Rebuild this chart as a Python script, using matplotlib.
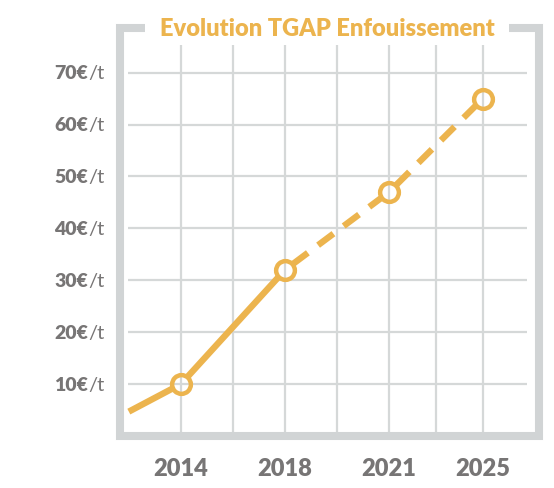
import matplotlib
matplotlib.use("Agg")
import matplotlib.pyplot as plt
import matplotlib.transforms as mtransforms
import numpy as np

# ── data ─────────────────────────────────────────────────────────────────────
years = ["2014", "2018", "2021", "2025"]
year_pos = [0, 1, 2, 2.9]
tgap = [10, 32, 47, 65]          # €/t
start_pos = -0.5                 # line enters from the left edge
start_val = 4.7
measured = 2                     # first two points solid, rest dashed (forecast)

yticks = [10, 20, 30, 40, 50, 60, 70]
grid_x = [0, 0.5, 1, 1.5, 2, 2.45, 2.9]

ORANGE = "#ECB44E"
FRAME = "#D1D4D5"
GRID = "#D5D8D8"
LABEL = "#777575"
FONT = "Lato"

fig = plt.figure(figsize=(5.54, 4.89), dpi=100)
ax = fig.add_axes([0.2175, 0.1063, 0.7555, 0.8344])
ax.set_xlim(-0.58, 3.44)
ax.set_ylim(0, 78.6)
ax.axis("off")

# grid
ax.hlines(yticks, -0.51, 3.32, color=GRID, lw=1.6, zorder=1)
ax.vlines(grid_x, 0, 75.3, color=GRID, lw=1.6, zorder=1)

# frame with a gap for the title
ax.plot([0.0585, 0, 0, 1, 1, 0.928], [1, 1, 0, 0, 1, 1],
        transform=ax.transAxes, color=FRAME, lw=5.8,
        solid_joinstyle="miter", solid_capstyle="butt", clip_on=False, zorder=3)

ax.text(0.495, 1.0, "Evolution TGAP Enfouissement", transform=ax.transAxes,
        ha="center", va="center", fontsize=17, fontweight="heavy",
        color=ORANGE, family=FONT, zorder=4)

# ── line, trimmed so it stops at the open circles ────────────────────────────
ms = 13.5
r = ms * fig.dpi / 72 / 2


def trimmed(p, q, r0, r1):
    a = ax.transData.transform(p)
    b = ax.transData.transform(q)
    u = (b - a) / np.hypot(*(b - a))
    pts = np.array([a + u * r0, b - u * r1])
    return ax.transData.inverted().transform(pts)


xs = [start_pos] + year_pos
ys = [start_val] + tgap
for i in range(len(xs) - 1):
    r0 = 0 if i == 0 else r
    seg = trimmed((xs[i], ys[i]), (xs[i + 1], ys[i + 1]), r0, r)
    style = dict(color=ORANGE, lw=4.6, zorder=4)
    if i < measured:
        ax.plot(seg[:, 0], seg[:, 1], solid_capstyle="butt", **style)
    else:
        ax.plot(seg[:, 0], seg[:, 1], dashes=(3, 2), dash_capstyle="butt", **style)

ax.plot(year_pos, tgap, "o", ms=ms, mfc="none", mec=ORANGE, mew=3.2, zorder=5)

# ── labels ───────────────────────────────────────────────────────────────────
ytrans = mtransforms.blended_transform_factory(ax.transAxes, ax.transData)
for v in yticks:
    t = ax.text(-0.039, v, "/t", transform=ytrans, ha="right", va="center",
                fontsize=14.5, color=LABEL, family=FONT, clip_on=False)
    ax.annotate(f"{v}€", xy=(0, 0), xycoords=t, ha="right", va="bottom",
                fontsize=14, fontweight="heavy", color=LABEL, family=FONT)

xtrans = mtransforms.blended_transform_factory(ax.transData, ax.transAxes)
for p, lab in zip(year_pos, years):
    ax.text(p, -0.078, lab, transform=xtrans, ha="center", va="center",
            fontsize=17, fontweight="heavy", color=LABEL, family=FONT, clip_on=False)

fig.savefig("out.png", dpi=100)
plt.close(fig)
